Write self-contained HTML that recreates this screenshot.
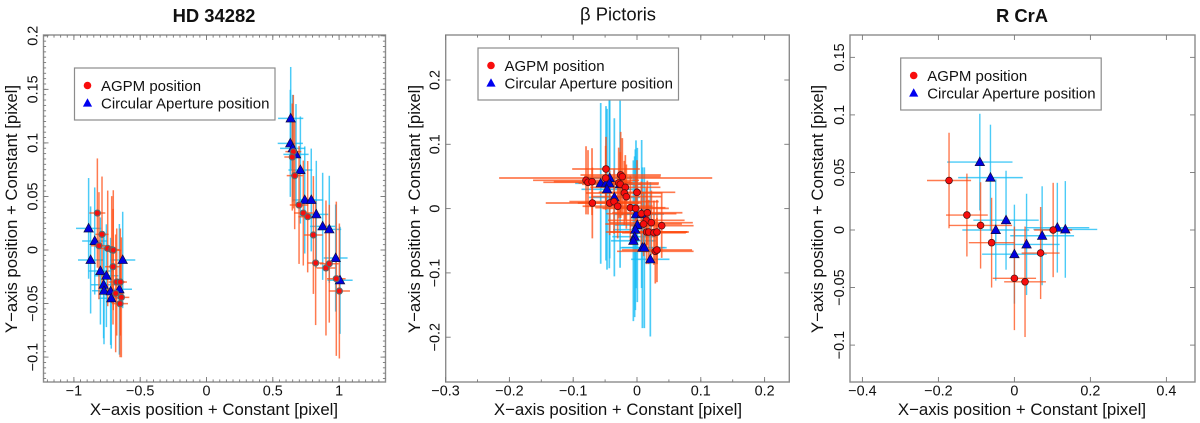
<!DOCTYPE html>
<html>
<head>
<meta charset="utf-8">
<title>Position scatter charts</title>
<style>
html,body{margin:0;padding:0;background:#fff;width:1200px;height:423px;overflow:hidden}
svg{display:block}
text{font-family:"Liberation Sans",Arial,sans-serif;fill:#111}
</style>
</head>
<body>
<svg id="chart" xmlns="http://www.w3.org/2000/svg" width="1200" height="423" viewBox="0 0 1200 423"></svg>
<script>
// HD 34282
const p1XTicks = [-1, -0.5, 0, 0.5, 1];
const p1YTicks = [-0.1, -0.05, 0, 0.05, 0.1, 0.15, 0.2];
const p1RedX = [-.823,-.788,-.811,-.745,-.715,-.703,-.705,-.677,-.650,-.685,-.642,-.652,.655,.647,.665,.698,.730,.763,.806,.823,.901,.926,.979,1.002];
const p1RedY = [.0345,.0146,.004,.0015,.0003,-.0002,-.0156,-.0299,-.0299,-.0405,-.0442,-.0501,.0918,.0868,.0694,.042,.0345,.0311,.014,-.0121,-.0168,-.0128,-.0268,-.0383];
const p1RedEx = [.06,.05,.06,.055,.06,.06,.06,.06,.05,.06,.06,.06,.06,.06,.06,.07,.07,.07,.07,.06,.07,.07,.07,.08];
const p1RedEy = [.051,.054,.05,.054,.05,.056,.054,.05,.05,.055,.056,.05,.053,.05,.05,.055,.049,.052,.055,.058,.063,.055,.072,.063];
const p1BlueX = [-.889,-.843,-.874,-.8,-.755,-.776,-.773,-.723,-.718,-.657,-.632,.635,.632,.65,.675,.708,.741,.79,.828,.876,.926,.974,1.007];
const p1BlueY = [.0202,.0084,-.0093,-.0196,-.024,-.0324,-.038,-.0386,-.0451,-.0367,-.0093,.1229,.0996,.0949,.0893,.0747,.0467,.0467,.0333,.0221,.0193,-.0075,-.0283];
const p1BlueEx = [.095,.095,.095,.09,.09,.095,.09,.09,.095,.095,.095,.095,.095,.095,.095,.09,.09,.09,.09,.095,.09,.09,.095];
const p1BlueEy = [.047,.05,.05,.05,.048,.05,.05,.05,.047,.061,.045,.048,.05,.05,.047,.05,.05,.048,.05,.05,.05,.05,.05];

// beta Pictoris
const p2XTicks = [-0.3, -0.2, -0.1, 0, 0.1, 0.2];
const p2YTicks = [-0.2, -0.1, 0, 0.1, 0.2];
const p2RedX = [-.0486,-.0491,-.0799,-.0768,-.0705,-.0256,-.023,-.0287,-.0261,-.0183,-.0199,-.0167,0,-.07,-.0428,-.036,-.0303,-.0104,-.0021,.0068,.0162,.0146,.0104,.0225,.0387,.0151,.0183,.0266,.0313,.0287,.0313];
const p2RedY = [.0616,.0476,.044,.0409,.0419,.0523,.0497,.0398,.0378,.0331,.0243,.0186,.0253,.0087,.0087,.0108,.0036,.0014,.0004,-.0079,-.0064,-.0182,-.024,-.0219,-.0266,-.0364,-.0364,-.0375,-.0364,-.0664,-.0644];
const p2RedEx = [.053,.167,.083,.07,.06,.063,.06,.063,.06,.055,.06,.055,.06,.073,.05,.07,.055,.055,.052,.055,.055,.06,.06,.065,.05,.064,.06,.05,.05,.06,.055];
const p2RedEy = [.05,.05,.053,.05,.052,.067,.06,.055,.05,.05,.05,.05,.05,.055,.05,.05,.05,.05,.05,.05,.05,.05,.05,.05,.05,.05,.05,.05,.05,.05,.05];
const p2BlueX = [-.0428,-.0569,-.0486,-.0434,-.047,-.0355,-.0265,-.0016,.0073,.0005,-.0026,-.0037,-.0057,.0084,.0115,.0209];
const p2BlueY = [.0476,.0393,.0393,.0393,.03,.0175,.038,-.0089,-.0084,-.0255,-.0328,-.0437,-.05,-.0608,-.0608,-.0789];
const p2BlueEx = [.035,.04,.035,.035,.04,.04,.035,.035,.035,.035,.035,.035,.035,.035,.035,.03];
const p2BlueEy = [.125,.125,.12,.132,.125,.123,.13,.115,.115,.12,.125,.125,.125,.125,.125,.12];

// R CrA
const p3XTicks = [-0.4, -0.2, 0, 0.2, 0.4];
const p3YTicks = [-0.1, -0.05, 0, 0.05, 0.1, 0.15];
const p3RedX = [-.172,-.125,-.089,-.06,0,.028,.069,.102];
const p3RedY = [.043,.013,.004,-.011,-.042,-.045,-.02,0];
const p3RedEx = [.058,.055,.083,.06,.057,.055,.05,.05];
const p3RedEy = [.0415,.036,.0375,.039,.045,.048,.04,.041];
const p3BlueX = [-.091,-.063,-.022,-.049,0,.032,.073,.113,.134];
const p3BlueY = [.059,.0455,.0085,0,-.021,-.0125,-.005,.002,.0005];
const p3BlueEx = [.086,.085,.086,.088,.085,.087,.084,.084,.084];
const p3BlueEy = [.042,.046,.043,.044,.043,.044,.043,.039,.042];

const NS = 'http://www.w3.org/2000/svg';
const root = document.getElementById('chart');

function mk(parent, tag, attrs, text) {
  const el = document.createElementNS(NS, tag);
  for (const k in attrs) el.setAttribute(k, attrs[k]);
  if (text !== undefined) el.textContent = text;
  parent.appendChild(el);
  return el;
}
function fmt(v) {
  const s = String(Math.abs(v));
  return (v < 0 ? '\u2212' : '') + s;
}
function multiples(lo, hi, step) {
  const out = [];
  for (let i = Math.ceil(lo / step - 1e-6); i <= Math.floor(hi / step + 1e-6); i++) out.push(i * step);
  return out;
}

function drawPanel(cfg) {
  const g = mk(root, 'g', {});
  
  
  const sx = v => cfg.x0 + v * cfg.xs;
  const sy = v => cfg.y0 - v * cfg.ys;
  const L = cfg.box[0], T = cfg.box[1], R = cfg.box[2], B = cfg.box[3];
  const xDom = [(L - cfg.x0) / cfg.xs, (R - cfg.x0) / cfg.xs];
  const yDom = [(cfg.y0 - B) / cfg.ys, (cfg.y0 - T) / cfg.ys];

  // error bars
  const barsB = mk(g, 'g', {fill:'none', stroke:'#18bdf5', 'stroke-opacity':'.78', 'stroke-width':cfg.barW});
  
  
  cfg.bx.forEach((v, i) => {
    mk(barsB, 'line', {x1:sx(v - cfg.bex[i]), x2:sx(v + cfg.bex[i]), y1:sy(cfg.by[i]), y2:sy(cfg.by[i])});
    mk(barsB, 'line', {x1:sx(v), x2:sx(v), y1:sy(cfg.by[i] - cfg.bey[i]), y2:sy(cfg.by[i] + cfg.bey[i])});
  });
  const barsR = mk(g, 'g', {fill:'none', stroke:'#ff4c12', 'stroke-opacity':'.74', 'stroke-width':cfg.barW});
  
  
  cfg.rx.forEach((v, i) => {
    mk(barsR, 'line', {x1:sx(v - cfg.rex[i]), x2:sx(v + cfg.rex[i]), y1:sy(cfg.ry[i]), y2:sy(cfg.ry[i])});
    mk(barsR, 'line', {x1:sx(v), x2:sx(v), y1:sy(cfg.ry[i] - cfg.rey[i]), y2:sy(cfg.ry[i] + cfg.rey[i])});
  });

  // markers
  const tris = mk(g, 'g', {});
  
  
  cfg.bx.forEach((v, i) => {
    const px = sx(v), py = sy(cfg.by[i]);
    mk(tris, 'polygon', {points:`${px-4.7},${py+3.6} ${px+4.7},${py+3.6} ${px},${py-5}`, fill:'#0000e0', stroke:'#101040', 'stroke-width':'.7'});
  });
  const circs = mk(g, 'g', {});
  
  
  cfg.rx.forEach((v, i) => {
    mk(circs, 'circle', {cx:sx(v), cy:sy(cfg.ry[i]), r:cfg.dotR, fill:'#f80d0d', stroke:cfg.dotStroke, 'stroke-width':cfg.dotSW});
  });

  // frame
  const frame = mk(g, 'rect', {x:L, y:T, width:R - L, height:B - T, fill:'none', stroke:'#8c8c8c', 'stroke-width':'1.4'});
  
  

  // ticks
  const ticks = mk(g, 'g', {stroke:'#777', 'stroke-width':'.9'});
  
  
  if (cfg.xMinor) multiples(xDom[0], xDom[1], cfg.xMinor).forEach(v => {
    mk(ticks, 'line', {x1:sx(v), x2:sx(v), y1:B, y2:B - 2.6});
    mk(ticks, 'line', {x1:sx(v), x2:sx(v), y1:T, y2:T + 2.6});
  });
  if (cfg.yMinor) multiples(yDom[0], yDom[1], cfg.yMinor).forEach(v => {
    mk(ticks, 'line', {x1:L, x2:L + 2.6, y1:sy(v), y2:sy(v)});
    mk(ticks, 'line', {x1:R, x2:R - 2.6, y1:sy(v), y2:sy(v)});
  });
  cfg.xTicks.forEach(v => {
    mk(ticks, 'line', {x1:sx(v), x2:sx(v), y1:B, y2:B - 5});
    mk(ticks, 'line', {x1:sx(v), x2:sx(v), y1:T, y2:T + 5});
  });
  cfg.yTicks.forEach(v => {
    mk(ticks, 'line', {x1:L, x2:L + 5, y1:sy(v), y2:sy(v)});
    mk(ticks, 'line', {x1:R, x2:R - 5, y1:sy(v), y2:sy(v)});
  });

  // tick labels
  cfg.xTicks.forEach(v => {
    const t = mk(g, 'text', {x:sx(v), y:395.5, 'text-anchor':'middle', 'font-size':'14.4'}, fmt(v));
    
    
  });
  cfg.yTicks.forEach(v => {
    const t = mk(g, 'text', {transform:`translate(${L - 6},${sy(v)}) rotate(-90)`, 'text-anchor':'middle', 'font-size':'14.4'}, fmt(v));
    
    
  });

  // axis titles
  const xt = mk(g, 'text', {x:cfg.xLabelX, y:415, 'text-anchor':'middle', 'font-size':'16.8'}, 'X\u2212axis position + Constant [pixel]');
  
  
  const yt = mk(g, 'text', {transform:`translate(${cfg.yLabelX},${cfg.yLabelY}) rotate(-90)`, 'text-anchor':'middle', 'font-size':'16.8'}, 'Y\u2212axis position + Constant [pixel]');
  
  

  // title
  const title = mk(g, 'text', {x:cfg.titleX, y:cfg.titleBold ? 22 : 20.5, 'text-anchor':'middle', 'font-size':'18.4', 'font-weight':cfg.titleBold ? 'bold' : 'normal'}, cfg.title);
  
  

  // legend
  const lg = mk(g, 'g', {});
  
  
  const lx = cfg.legend[0], ly = cfg.legend[1];
  mk(lg, 'rect', {x:lx, y:ly, width:200.5, height:52, fill:'#fff', stroke:'#8c8c8c', 'stroke-width':'1.2'});
  const e1 = mk(lg, 'g', {});
  
  
  mk(e1, 'circle', {cx:lx + 13, cy:ly + 17.5, r:3.8, fill:'#f80d0d'});
  mk(e1, 'text', {x:lx + 26.5, y:ly + 23, 'font-size':'15'}, 'AGPM position');
  const e2 = mk(lg, 'g', {});
  
  
  mk(e2, 'polygon', {points:`${lx+8.4},${ly+38.6} ${lx+17.6},${ly+38.6} ${lx+13},${ly+30.3}`, fill:'#0000f0'});
  mk(e2, 'text', {x:lx + 26.5, y:ly + 40.5, 'font-size':'15'}, 'Circular Aperture position');
}

drawPanel({
  name:'hd-34282', title:'HD 34282', titleBold:true, titleX:214,
  box:[43.5, 35, 385.5, 382], x0:206.5, xs:132.6, y0:250, ys:1071,
  xTicks:p1XTicks, yTicks:p1YTicks, xMinor:0.05, yMinor:0.005,
  rx:p1RedX, ry:p1RedY, rex:p1RedEx, rey:p1RedEy,
  bx:p1BlueX, by:p1BlueY, bex:p1BlueEx, bey:p1BlueEy,
  barW:1.5, dotR:3, dotStroke:'#666', dotSW:1.2,
  xLabelX:214, yLabelX:17, yLabelY:209, legend:[74.5, 68]
});
drawPanel({
  name:'beta-pictoris', title:'\u03B2 Pictoris', titleBold:false, titleX:618,
  box:[445.7, 35, 789.3, 382], x0:637, xs:638, y0:208.6, ys:643,
  xTicks:p2XTicks, yTicks:p2YTicks, xMinor:0.05, yMinor:0,
  rx:p2RedX, ry:p2RedY, rex:p2RedEx, rey:p2RedEy,
  bx:p2BlueX, by:p2BlueY, bex:p2BlueEx, bey:p2BlueEy,
  barW:1.7, dotR:3.4, dotStroke:'#5a1010', dotSW:.8,
  xLabelX:618, yLabelX:420, yLabelY:209, legend:[478, 48]
});
drawPanel({
  name:'r-cra', title:'R CrA', titleBold:true, titleX:1022,
  box:[850, 35, 1195, 382], x0:1014.4, xs:380, y0:230, ys:1151,
  xTicks:p3XTicks, yTicks:p3YTicks, xMinor:0, yMinor:0,
  rx:p3RedX, ry:p3RedY, rex:p3RedEx, rey:p3RedEy,
  bx:p3BlueX, by:p3BlueY, bex:p3BlueEx, bey:p3BlueEy,
  barW:1.4, dotR:3.4, dotStroke:'#401010', dotSW:.7,
  xLabelX:1022, yLabelX:823, yLabelY:209, legend:[900.7, 58]
});
</script>
</body>
</html>
